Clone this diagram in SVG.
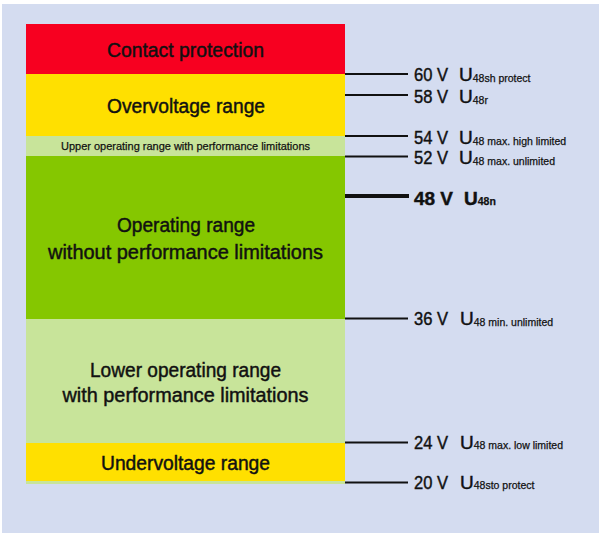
<svg xmlns="http://www.w3.org/2000/svg" width="601" height="533" viewBox="0 0 601 533">
<style>
.band-label{font-family:"Liberation Sans",Arial,sans-serif;font-size:20px;fill:#111;stroke:#111;stroke-width:0.45;text-anchor:middle}
.small-label{font-family:"Liberation Sans",Arial,sans-serif;font-size:11.5px;fill:#111;stroke:#111;stroke-width:0.25;text-anchor:middle}
.v{font-family:"Liberation Sans",Arial,sans-serif;font-size:19px;fill:#111;stroke:#111;stroke-width:0.45}
.u{font-family:"Liberation Sans",Arial,sans-serif;font-size:19px;fill:#111;stroke:#111;stroke-width:0.45}
.sub{font-size:10.5px;stroke-width:0.25}
.b{font-weight:bold}
.tick{stroke:#111;stroke-width:2}
.tick-bold{stroke:#111;stroke-width:4}
</style>
<rect x="0" y="0" width="601" height="533" fill="#ffffff"/>
<rect x="2" y="4" width="597" height="529" fill="#D4DCF0"/>

<g id="contact-protection">
<rect x="26" y="24" width="319" height="50" fill="#F70020"/>
<text class="band-label" x="185.5" y="57" textLength="157" lengthAdjust="spacingAndGlyphs">Contact protection</text>
</g>
<g id="overvoltage-range">
<rect x="26" y="74" width="319" height="62" fill="#FFE000"/>
<text class="band-label" x="186" y="113" textLength="158" lengthAdjust="spacingAndGlyphs">Overvoltage range</text>
</g>
<g id="upper-operating-range">
<rect x="26" y="136" width="319" height="20" fill="#C8E49A"/>
<text class="small-label" x="185.5" y="150" textLength="249" lengthAdjust="spacingAndGlyphs">Upper operating range with performance limitations</text>
</g>
<g id="operating-range">
<rect x="26" y="156" width="319" height="163" fill="#85C700"/>
<text class="band-label" x="186" y="232" textLength="138" lengthAdjust="spacingAndGlyphs">Operating range</text>
<text class="band-label" x="185.5" y="259" textLength="275" lengthAdjust="spacingAndGlyphs">without performance limitations</text>
</g>
<g id="lower-operating-range">
<rect x="26" y="319" width="319" height="165" fill="#C8E49A"/>
<text class="band-label" x="185.5" y="376.5" textLength="191" lengthAdjust="spacingAndGlyphs">Lower operating range</text>
<text class="band-label" x="185.5" y="401.5" textLength="246" lengthAdjust="spacingAndGlyphs">with performance limitations</text>
</g>
<g id="undervoltage-range">
<rect x="26" y="443" width="319" height="38" fill="#FFE000"/>
<text class="band-label" x="185.5" y="469.5" textLength="169" lengthAdjust="spacingAndGlyphs">Undervoltage range</text>
</g>

<g id="connectors">
<line class="tick" x1="345" y1="74" x2="408" y2="74"/>
<line class="tick" x1="345" y1="95" x2="408" y2="95"/>
<line class="tick" x1="345" y1="136" x2="408" y2="136"/>
<line class="tick" x1="345" y1="156.5" x2="408" y2="156.5"/>
<line class="tick-bold" x1="345" y1="196" x2="409" y2="196"/>
<line class="tick" x1="345" y1="318.5" x2="408" y2="318.5"/>
<line class="tick" x1="345" y1="442.5" x2="408" y2="442.5"/>
<line class="tick" x1="345" y1="482.5" x2="408" y2="482.5"/>
</g>

<g id="label-60">
<text class="v" x="414" y="81" textLength="34" lengthAdjust="spacingAndGlyphs">60 V</text>
<text class="u" x="459" y="81">U<tspan class="sub" dy="1">48sh protect</tspan></text>
</g>
<g id="label-58">
<text class="v" x="414" y="102.5" textLength="34" lengthAdjust="spacingAndGlyphs">58 V</text>
<text class="u" x="459" y="102.5">U<tspan class="sub" dy="1">48r</tspan></text>
</g>
<g id="label-54">
<text class="v" x="414" y="143.5" textLength="34" lengthAdjust="spacingAndGlyphs">54 V</text>
<text class="u" x="459" y="143.5">U<tspan class="sub" dy="1">48 max. high limited</tspan></text>
</g>
<g id="label-52">
<text class="v" x="414" y="163.5" textLength="34" lengthAdjust="spacingAndGlyphs">52 V</text>
<text class="u" x="459" y="163.5">U<tspan class="sub" dy="1">48 max. unlimited</tspan></text>
</g>
<g id="label-48">
<text class="v b" x="414" y="205" textLength="39" lengthAdjust="spacingAndGlyphs">48 V</text>
<text class="u b" x="464" y="205">U<tspan class="sub" dy="0">48n</tspan></text>
</g>
<g id="label-36">
<text class="v" x="414" y="324.5" textLength="34" lengthAdjust="spacingAndGlyphs">36 V</text>
<text class="u" x="460" y="324.5">U<tspan class="sub" dy="1">48 min. unlimited</tspan></text>
</g>
<g id="label-24">
<text class="v" x="414" y="449" textLength="34" lengthAdjust="spacingAndGlyphs">24 V</text>
<text class="u" x="460" y="449">U<tspan class="sub" dy="0">48 max. low limited</tspan></text>
</g>
<g id="label-20">
<text class="v" x="414" y="488.5" textLength="34" lengthAdjust="spacingAndGlyphs">20 V</text>
<text class="u" x="460" y="488.5">U<tspan class="sub" dy="0">48sto protect</tspan></text>
</g>
</svg>
